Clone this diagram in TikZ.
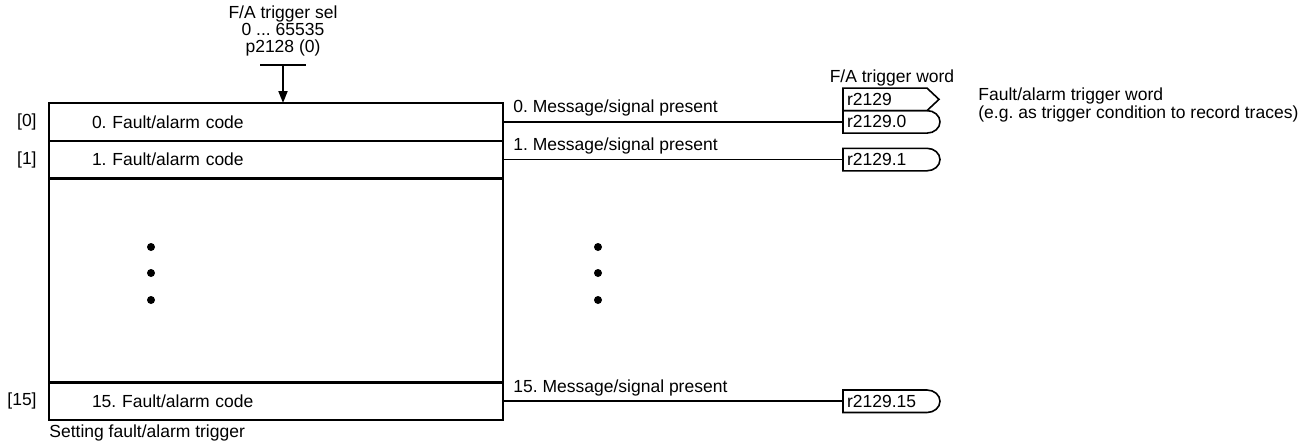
\documentclass[tikz,border=0pt]{standalone}
\usepackage{fontspec}
\setmainfont{Liberation Sans}
\usetikzlibrary{arrows.meta,positioning}
\frenchspacing

\newcommand\bitframe[1]{\draw[sigline] (#1.north west) -- (#1.north east)
  arc[start angle=90,end angle=-90,x radius=6.5pt,y radius=5.625pt] -- (#1.south west) -- cycle;}
\newcommand\wordframe[1]{\draw[sigline] (#1.north west) -- (#1.north east)
  -- ([xshift=6pt]#1.east) -- (#1.south east) -- (#1.south west) -- cycle;}

\begin{document}
\begin{tikzpicture}[x=0.5pt,y=-0.5pt,
  every node/.style={font=\fontsize{8.75pt}{8.5pt}\selectfont},
  codebox/.style={draw,line width=1.1pt,anchor=north west,minimum width=227pt,
    minimum height=18.85pt,inner sep=0pt,outer sep=0pt,text width=184pt,align=left},
  idx/.style={anchor=east,inner sep=0pt},
  msg/.style={anchor=base west,inner sep=0pt},
  outbox/.style={anchor=west,minimum width=42pt,minimum height=11.25pt,outer sep=0pt,
    text width=38pt,align=left,inner xsep=2pt,inner ysep=0pt},
  sigline/.style={line width=0.8pt},
  conn/.style={line width=0.9pt},
  dot/.style={circle,fill,inner sep=0pt,minimum size=4pt}]
\useasboundingbox (0,0) rectangle (1303,446);

\node[codebox] (c0) at (49,103) {0. Fault/alarm code};
\node[codebox] (c1) at (c0.south west) {1. Fault/alarm code};
\node[codebox,minimum height=102pt] (cgap) at (c1.south west) {};
\node[codebox] (c15) at (cgap.south west) {15. Fault/alarm code};

\node[idx] (i0) at ([xshift=-6pt]c0.west) {[0]};
\node[idx] (i1) at ([xshift=-6pt]c1.west) {[1]};
\node[idx] (i15) at ([xshift=-6pt]c15.west) {[15]};

\node[anchor=base west,inner sep=0pt] (caption) at ([yshift=-8.5pt]c15.south west) {Setting fault/alarm trigger};

\coordinate (sel) at (283,65);
\node[align=center,anchor=south,inner sep=0pt] (selname) at ([yshift=4pt]sel) {F/A trigger sel\\0 ... 65535\\p2128 (0)};
\draw[conn] ([xshift=-11.5pt]sel) -- ([xshift=11.5pt]sel);
\draw[conn,-{Triangle[length=6pt,width=4.5pt]}] (sel) -- (sel |- c0.north);

\node[dot] (dl1) at (151,247) {};
\node[dot] (dl2) at (151,273) {};
\node[dot] (dl3) at (151,300) {};
\node[dot] (dr1) at (598,247) {};
\node[dot] (dr2) at (598,273) {};
\node[dot] (dr3) at (598,300) {};

\coordinate (outx) at (843,0);
\node[outbox] (b0) at (c0.east -| outx) {r2129.0};
\node[outbox] (b1) at (c1.east -| outx) {r2129.1};
\node[outbox] (b15) at (c15.east -| outx) {r2129.15};
\node[outbox,anchor=south west] (w) at (b0.north west) {r2129};
\bitframe{b0}
\bitframe{b1}
\bitframe{b15}
\wordframe{w}

\node[anchor=base,inner sep=0pt] (wname) at ([xshift=3.5pt,yshift=3pt]w.north) {F/A trigger word};
\node[anchor=north west,align=left,inner sep=0pt,font=\fontsize{8.75pt}{6pt}\selectfont] (wdesc) at (978,87) {Fault/alarm trigger word\\(e.g. as trigger condition to record traces)};

\draw[conn] (c0.east) -- (b0.west);
\draw[conn] (c1.east) -- (b1.west);
\draw[conn] (c15.east) -- (b15.west);

\node[msg] (m0) at ([xshift=5pt,yshift=4.5pt]c0.east) {0. Message/signal present};
\node[msg] (m1) at ([xshift=5pt,yshift=4.5pt]c1.east) {1. Message/signal present};
\node[msg] (m15) at ([xshift=5pt,yshift=4.5pt]c15.east) {15. Message/signal present};
\end{tikzpicture}
\end{document}
